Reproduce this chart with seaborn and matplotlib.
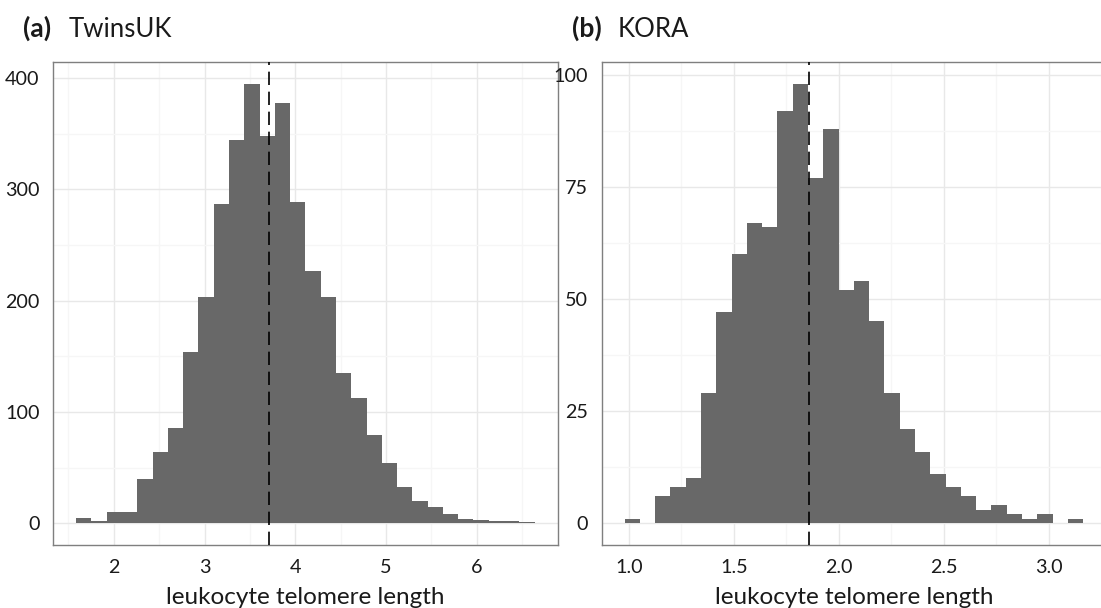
import numpy as np
import pandas as pd
import seaborn as sns
import matplotlib
matplotlib.use("Agg")
import matplotlib.pyplot as plt
from matplotlib.ticker import FixedLocator

# ---- data: 30 equal-width bins per cohort ----
twins_range = (1.586, 6.638)
twins_counts = [5, 2, 10, 10, 40, 64, 86, 154, 203, 287, 344, 395, 348, 378, 289,
                227, 203, 135, 113, 79, 54, 33, 20, 15, 8, 4, 3, 2, 2, 1]
twins_mean = 3.715

kora_range = (0.980, 3.163)
kora_counts = [1, 0, 6, 8, 10, 29, 47, 60, 67, 66, 92, 98, 77, 88, 52,
               54, 45, 29, 21, 16, 11, 8, 6, 3, 4, 2, 1, 2, 0, 1]
kora_mean = 1.856

panel_tags = ["(a)", "(b)"]
panel_names = ["TwinsUK", "KORA"]
x_label = "leukocyte telomere length"

twins_xticks = [2, 3, 4, 5, 6]
twins_xminor = [1.5, 2.5, 3.5, 4.5, 5.5, 6.5]
twins_yticks = [0, 100, 200, 300, 400]
twins_yminor = [50, 150, 250, 350]

kora_xticks = [1.0, 1.5, 2.0, 2.5, 3.0]
kora_xminor = [1.25, 1.75, 2.25, 2.75, 3.25]
kora_yticks = [0, 25, 50, 75, 100]
kora_yminor = [12.5, 37.5, 62.5, 87.5]

# ---- style ----
sns.set_style("white")
plt.rcParams["font.family"] = ["Lato", "DejaVu Sans"]

BAR = "#686868"
BORDER = "#7f7f7f"
GRID_MAJOR = "#e8e8e8"
GRID_MINOR = "#f6f6f6"
TEXT = "#1a1a1a"

W, H = 1101, 608
fig = plt.figure(figsize=(W / 100, H / 100), dpi=100)
fig.patch.set_facecolor("white")

PANEL_TOP, PANEL_BOTTOM = 61.7, 545.3


def px_axes(left, right):
    return fig.add_axes([left / W, 1 - PANEL_BOTTOM / H,
                         (right - left) / W, (PANEL_BOTTOM - PANEL_TOP) / H])


ax_a = px_axes(53.3, 557.5)
ax_b = px_axes(601.6, 1106.0)


def draw_panel(ax, rng, counts, mean, xticks, xminor, yticks, yminor, fmt):
    n = len(counts)
    step = (rng[1] - rng[0]) / n
    df = pd.DataFrame({
        "length": [rng[0] + step * (i + 0.5) for i in range(n)],
        "count": counts,
    })
    sns.histplot(data=df, x="length", weights="count", bins=n, binrange=rng, ax=ax,
                 color=BAR, alpha=1, linewidth=0, edgecolor=BAR, zorder=2)
    ax.axvline(mean, color="black", lw=1.2, ls=(0, (8, 4)), zorder=3)

    span = rng[1] - rng[0]
    ax.set_xlim(rng[0] - 0.05 * span, rng[1] + 0.05 * span)
    top = max(counts)
    ax.set_ylim(-0.05 * top, 1.05 * top)

    ax.xaxis.set_major_locator(FixedLocator(xticks))
    ax.xaxis.set_minor_locator(FixedLocator(xminor))
    ax.yaxis.set_major_locator(FixedLocator(yticks))
    ax.yaxis.set_minor_locator(FixedLocator(yminor))
    ax.set_xticklabels([fmt(v) for v in xticks])
    ax.set_yticklabels([str(v) for v in yticks])

    ax.set_axisbelow(True)
    ax.grid(which="major", color=GRID_MAJOR, lw=1.0, zorder=0)
    ax.grid(which="minor", color=GRID_MINOR, lw=1.0, zorder=0)

    ax.tick_params(which="major", direction="out", length=5.2, width=1.1,
                   color="#333333", labelsize=14.2, labelcolor=TEXT, pad=4.6)
    ax.tick_params(which="minor", length=0)
    for s in ax.spines.values():
        s.set_visible(True)
        s.set_color(BORDER)
        s.set_linewidth(1.0)

    # axis title sits on a baseline 604 px from the top of the figure
    ax.set_xlabel(x_label, fontsize=17.5, color=TEXT)
    ax.xaxis.label.set_va("baseline")
    ax.xaxis.set_label_coords(0.5, -(604 - PANEL_BOTTOM) / (PANEL_BOTTOM - PANEL_TOP))
    ax.set_ylabel("")


draw_panel(ax_a, twins_range, twins_counts, twins_mean,
           twins_xticks, twins_xminor, twins_yticks, twins_yminor, lambda v: f"{v:d}")
draw_panel(ax_b, kora_range, kora_counts, kora_mean,
           kora_xticks, kora_xminor, kora_yticks, kora_yminor, lambda v: f"{v:.1f}")

# panel headings: bold tag followed by the cohort name
for tag, name, x0 in zip(panel_tags, panel_names, [22.7, 571.7]):
    fig.text(x0 / W, 1 - 36.7 / H, tag, fontsize=19, fontweight="bold",
             color=TEXT, ha="left", va="baseline")
    fig.text((x0 + 46) / W, 1 - 36.7 / H, name, fontsize=18.5,
             color=TEXT, ha="left", va="baseline")

fig.savefig("out.png", dpi=100, facecolor="white")
